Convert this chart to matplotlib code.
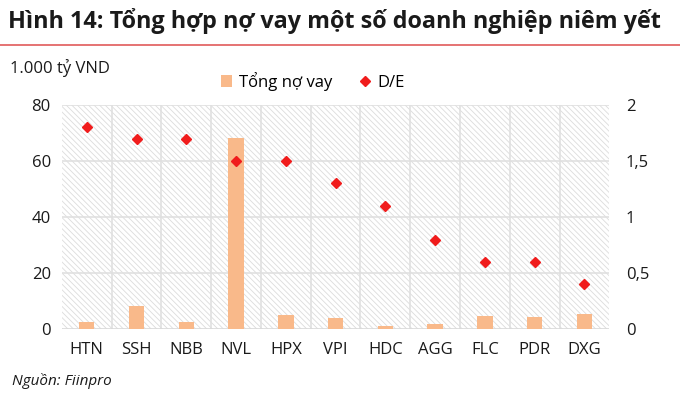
import matplotlib.pyplot as plt
from matplotlib.patches import Rectangle
import numpy as np

plt.rcParams['font.family'] = ['Open Sans', 'DejaVu Sans']
plt.rcParams['hatch.color'] = '#dcdcdc'
plt.rcParams['hatch.linewidth'] = 0.6

companies = ["HTN", "SSH", "NBB", "NVL", "HPX", "VPI", "HDC", "AGG", "FLC", "PDR", "DXG"]
total_debt = [2.5, 8.3, 2.7, 68.3, 4.9, 3.9, 1.3, 1.9, 4.6, 4.3, 5.5]  # 1.000 ty VND
de_ratio = [1.8, 1.7, 1.7, 1.5, 1.5, 1.3, 1.1, 0.8, 0.6, 0.6, 0.4]

fig = plt.figure(figsize=(6.8, 3.98), dpi=100)
ax = fig.add_axes([0.091, 0.173, 0.805, 0.563])
ax2 = ax.twinx()

x = np.arange(len(companies))

# hatched background
ax.add_patch(Rectangle((0, 0), 1, 1, transform=ax.transAxes, facecolor='white',
                       edgecolor='#dcdcdc', hatch='\\\\\\\\\\\\', linewidth=0, zorder=0))

ax.bar(x, total_debt, width=0.31, color='#f9b98a', zorder=3, label='Tổng nợ vay')
ax2.plot(x, de_ratio, linestyle='none', marker='D', markersize=5.5, color='#f01c1c',
         label='D/E', zorder=4)

ax.set_xlim(-0.5, len(companies) - 0.5)
ax.set_ylim(0, 80)
ax2.set_ylim(0, 2)
ax.set_yticks([0, 20, 40, 60, 80])
ax2.set_yticks([0, 0.5, 1, 1.5, 2])
ax2.set_yticklabels(['0', '0,5', '1', '1,5', '2'])
ax.set_xticks(x)
ax.set_xticklabels(companies)

# grid
for v in [20, 40, 60, 80]:
    ax.axhline(v, color='#e0e0e0', lw=1.2, zorder=1)
for v in np.arange(0.5, len(companies) - 0.5, 1):
    ax.axvline(v, color='#e0e0e0', lw=1.2, zorder=1)
ax.axhline(0, color='#d9d9d9', lw=1.2, zorder=2)

for a in (ax, ax2):
    for s in a.spines.values():
        s.set_visible(False)
    a.tick_params(length=0, labelsize=12, colors='#1a1a1a')
ax.tick_params(axis='x', pad=9)
ax.tick_params(axis='y', pad=8)
ax2.tick_params(axis='y', pad=12)

fig.text(0.012, 0.948, 'Hình 14: Tổng hợp nợ vay một số doanh nghiệp niêm yết',
         fontsize=16.8, fontweight='bold', color='#1a1a1a', va='center')
fig.add_artist(plt.Line2D([0.0, 1.0], [0.887, 0.887], color='#e05a5a', lw=1.2))
fig.text(0.015, 0.83, '1.000 tỷ VND', fontsize=12, color='#1a1a1a', va='center')
fig.text(0.018, 0.042, 'Nguồn: Fiinpro', fontsize=11, style='italic', color='#1a1a1a', va='center')

h1, l1 = ax.get_legend_handles_labels()
h2, l2 = ax2.get_legend_handles_labels()
fig.legend(h1 + h2, l1 + l2, loc='center', bbox_to_anchor=(0.46, 0.795), ncol=2,
           frameon=False, fontsize=12, handlelength=0.7, handletextpad=0.4,
           columnspacing=1.6, borderaxespad=0)

fig.savefig('out.png', dpi=100)
